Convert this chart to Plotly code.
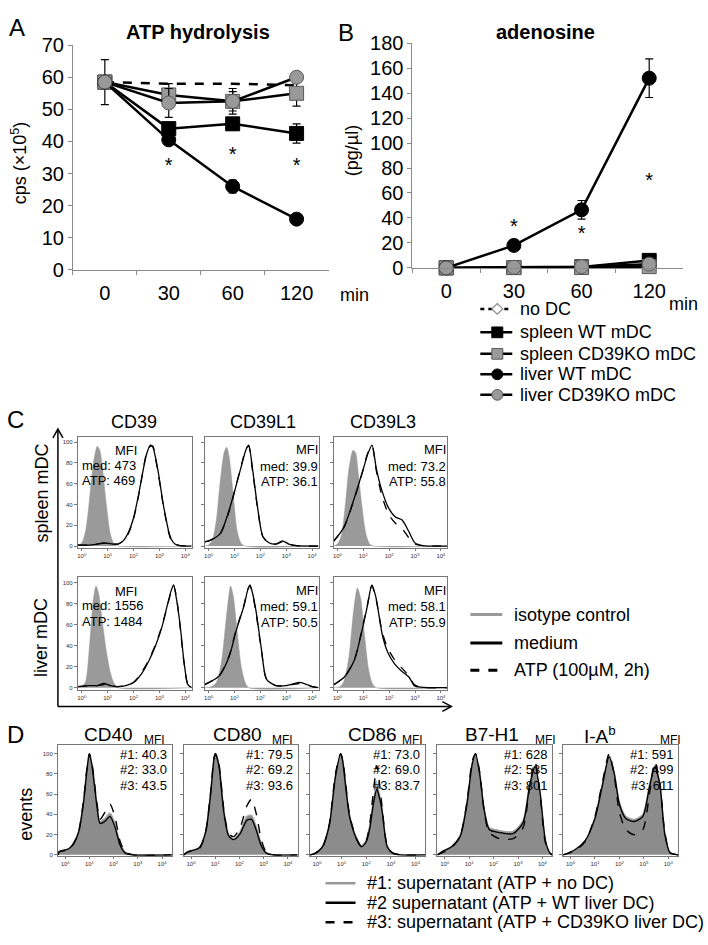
import plotly.graph_objects as go

W, H = 708, 945
FONT = "Liberation Sans, Arial, Helvetica, sans-serif"
AXC = "#8a8a8a"
BOXC = "#777777"


def px(x):
    return x / W


def py(y):
    return 1 - y / H


# ---------------- data: panels A and B ----------------
time_labels = ["0", "30", "60", "120"]
series_names = ["no DC", "spleen WT mDC", "spleen CD39KO mDC", "liver WT mDC", "liver CD39KO mDC"]

atp_no_dc = [58.5, 58.0, 58.0, 57.5]
atp_spleen_wt = [58.5, 44.0, 45.5, 42.5]
atp_spleen_ko = [58.5, 54.5, 52.5, 55.0]
atp_liver_wt = [58.5, 40.5, 26.0, 15.8]
atp_liver_ko = [58.5, 52.0, 52.5, 60.0]
atp_err_no_dc = [0, 0, 0, 0]
atp_err_spleen_wt = [0, 1.5, 1.5, 3.0]
atp_err_spleen_ko = [0, 3.5, 4.0, 4.0]
atp_err_liver_wt = [0, 1.0, 2.0, 1.0]
atp_err_liver_ko = [7.0, 4.5, 3.0, 1.0]
atp_star_y = [32, 35.5, 32]

ado_no_dc = [0, 0, 0, 0]
ado_spleen_wt = [0, 0.3, 0.8, 6.0]
ado_spleen_ko = [0, 0.2, 0.3, 1.0]
ado_liver_wt = [0, 18.0, 46.5, 152.0]
ado_liver_ko = [0, 0.5, 1.0, 3.0]
ado_err_no_dc = [0, 0, 0, 0]
ado_err_spleen_wt = [0, 0, 0, 0]
ado_err_spleen_ko = [0, 0, 0, 0]
ado_err_liver_wt = [0, 1.5, 7.5, 15.5]
ado_err_liver_ko = [0, 0, 0, 0]
ado_star_y = [32, 26, 69]

# ---------------- data: panel C (flow histograms, log10 fluorescence) ----------------
c_col_titles = ["CD39", "CD39L1", "CD39L3"]
c_row_titles = ["spleen mDC", "liver mDC"]
c_legend_labels = ["isotype control", "medium", "ATP (100µM, 2h)"]
hist_tick_vals = [0, 1, 2, 3, 4]
hist_tick_text = ["10<sup>0</sup>", "10<sup>1</sup>", "10<sup>2</sup>", "10<sup>3</sup>", "10<sup>4</sup>"]
hist_y_ticks = [0, 20, 40, 60, 80, 100]

# spleen CD39
c_sp39_iso_x = [-0.15, 0.0, 0.15, 0.3, 0.45, 0.6, 0.7, 0.8, 0.95, 1.1, 1.25, 1.4, 4.25]
c_sp39_iso_y = [1, 3, 15, 45, 80, 96, 92, 75, 40, 12, 2, 0, 0]
c_sp39_x = [-0.15, 0.3, 0.6, 0.9, 1.2, 1.4, 1.6, 1.8, 2.0, 2.2, 2.35, 2.5, 2.65, 2.75, 2.85, 2.95, 3.05, 3.15, 3.25, 3.35, 3.45, 3.6, 3.8, 4.25]
c_sp39_med_y = [1, 1, 2, 3, 2, 2, 5, 13, 27, 50, 70, 88, 97, 95, 85, 72, 56, 40, 27, 15, 7, 2, 0.5, 0]
c_sp39_atp_y = [1, 1, 2, 3, 2, 2, 5, 12, 26, 49, 70, 89, 96, 96, 84, 71, 55, 39, 26, 14, 6, 2, 0.5, 0]
c_sp39_mfi = ["473", "469"]

# spleen CD39L1
c_spL1_iso_x = [-0.15, 0.0, 0.15, 0.3, 0.45, 0.6, 0.7, 0.8, 0.95, 1.1, 1.25, 1.4, 4.25]
c_spL1_iso_y = [0, 1, 6, 25, 62, 90, 95, 85, 50, 15, 3, 0, 0]
c_spL1_x = [-0.15, 0.1, 0.45, 0.8, 1.05, 1.3, 1.45, 1.55, 1.7, 1.9, 2.1, 2.35, 2.6, 2.85, 3.1, 3.4, 4.25]
c_spL1_med_y = [4, 6, 12, 35, 57, 80, 93, 97, 74, 36, 9, 3, 2, 5, 2, 0.5, 0]
c_spL1_atp_y = [4, 6, 12, 34, 57, 81, 94, 96, 72, 35, 9, 3, 2, 4, 2, 0.5, 0]
c_spL1_mfi = ["39.9", "36.1"]

# spleen CD39L3
c_spL3_iso_x = [-0.15, 0.0, 0.15, 0.3, 0.45, 0.6, 0.7, 0.8, 0.95, 1.1, 1.25, 1.4, 4.25]
c_spL3_iso_y = [0, 2, 10, 38, 75, 92, 90, 72, 38, 12, 2, 0, 0]
c_spL3_x = [-0.2, 0.25, 0.65, 1.0, 1.18, 1.34, 1.5, 1.7, 1.97, 2.24, 2.5, 2.76, 3.0, 3.3, 4.25]
c_spL3_med_y = [3, 18, 46, 74, 89, 97, 75, 55, 37, 28, 25, 14, 3, 0.5, 0]
c_spL3_atp_y = [3, 18, 45, 74, 90, 96, 73, 50, 31, 22, 17, 8, 2, 0.5, 0]
c_spL3_mfi = ["73.2", "55.8"]

# liver CD39
c_li39_iso_x = [-0.15, 0.0, 0.15, 0.3, 0.45, 0.55, 0.65, 0.8, 0.95, 1.1, 1.25, 1.4, 4.25]
c_li39_iso_y = [0, 1, 6, 40, 85, 97, 90, 62, 35, 15, 4, 0, 0]
c_li39_x = [-0.15, 0.3, 0.6, 0.85, 1.1, 1.4, 1.7, 2.0, 2.3, 2.6, 2.85, 3.1, 3.3, 3.45, 3.55, 3.65, 3.8, 3.95, 4.1, 4.25]
c_li39_med_y = [1, 2, 2, 4, 2, 1, 2, 5, 13, 26, 40, 58, 78, 92, 98, 86, 60, 25, 3, 0]
c_li39_atp_y = [1, 2, 2, 3, 2, 1, 2, 5, 14, 27, 41, 59, 77, 91, 97, 88, 58, 24, 3, 0]
c_li39_mfi = ["1556", "1484"]

# liver CD39L1
c_liL1_iso_x = [-0.15, 0.1, 0.3, 0.5, 0.7, 0.85, 0.95, 1.1, 1.25, 1.4, 1.55, 4.25]
c_liL1_iso_y = [0, 1, 5, 25, 70, 97, 88, 55, 22, 6, 0, 0]
c_liL1_x = [-0.15, 0.4, 0.8, 1.05, 1.38, 1.5, 1.6, 1.7, 1.84, 2.04, 2.24, 2.6, 3.0, 3.5, 3.7, 4.0, 4.25]
c_liL1_med_y = [3, 11, 30, 53, 79, 92, 98, 90, 72, 37, 8, 2, 2, 5, 4, 1, 0]
c_liL1_atp_y = [3, 11, 31, 54, 80, 93, 97, 89, 70, 36, 8, 2, 2, 4, 4, 1, 0]
c_liL1_mfi = ["59.1", "50.5"]

# liver CD39L3
c_liL3_iso_x = [-0.15, 0.1, 0.25, 0.45, 0.62, 0.77, 0.9, 1.05, 1.2, 1.35, 1.5, 4.25]
c_liL3_iso_y = [0, 1, 6, 30, 72, 95, 85, 50, 18, 4, 0, 0]
c_liL3_x = [-0.2, 0.26, 0.65, 0.9, 1.16, 1.33, 1.48, 1.74, 1.94, 2.2, 2.52, 2.77, 2.97, 3.2, 4.25]
c_liL3_med_y = [2, 10, 26, 49, 78, 98, 87, 50, 34, 23, 15, 10, 2, 0.5, 0]
c_liL3_atp_y = [2, 10, 26, 50, 79, 97, 86, 52, 38, 27, 18, 11, 3, 0.5, 0]
c_liL3_mfi = ["58.1", "55.9"]

# ---------------- data: panel D ----------------
d_titles = ["CD40", "CD80", "CD86", "B7-H1", "I-A<sup>b</sup>"]
d_legend_labels = ["#1: supernatant (ATP + no DC)", "#2 supernatant (ATP + WT liver DC)",
                   "#3: supernatant (ATP + CD39KO liver DC)"]

d_cd40_x = [-0.3, -0.25, 0.15, 0.35, 0.55, 0.75, 0.9, 1.0, 1.12, 1.3, 1.44, 1.64, 1.85, 2.05, 2.26, 2.47, 2.8, 4.4]
d_cd40_s1 = [0, 3, 6, 12, 23, 52, 85, 99, 87, 52, 33, 36, 41, 31, 12, 3, 0, 0]
d_cd40_s2 = [0, 3, 6, 11, 22, 50, 84, 100, 86, 50, 31, 33, 38, 28, 10, 2, 0, 0]
d_cd40_s3 = [0, 3, 5, 11, 22, 52, 86, 100, 88, 53, 35, 42, 50, 38, 14, 3, 0, 0]
d_cd40_mfi = ["40.3", "33.0", "43.5"]

d_cd80_x = [-0.3, -0.13, 0.34, 0.6, 0.81, 0.95, 1.01, 1.15, 1.35, 1.55, 1.76, 2.03, 2.3, 2.5, 2.7, 2.9, 3.1, 3.4, 4.4]
d_cd80_s1 = [0, 3, 7, 23, 62, 95, 100, 90, 45, 20, 16, 23, 38, 39, 27, 11, 2, 0, 0]
d_cd80_s2 = [0, 3, 7, 22, 60, 95, 100, 88, 43, 19, 15, 21, 34, 35, 24, 9, 2, 0, 0]
d_cd80_s3 = [0, 3, 6, 22, 62, 96, 100, 90, 46, 21, 18, 27, 48, 55, 40, 15, 3, 0, 0]
d_cd80_mfi = ["79.5", "69.2", "93.6"]

d_cd86_x = [-0.3, -0.12, 0.2, 0.5, 0.75, 0.96, 1.04, 1.32, 1.6, 1.81, 2.0, 2.15, 2.3, 2.43, 2.55, 2.64, 2.85, 3.06, 3.4, 4.4]
d_cd86_s1 = [0, 1, 7, 30, 78, 99, 94, 40, 17, 9, 14, 30, 55, 70, 58, 45, 9, 2, 0, 0]
d_cd86_s2 = [0, 1, 7, 29, 77, 100, 93, 38, 16, 8, 13, 27, 52, 65, 55, 44, 8, 2, 0, 0]
d_cd86_s3 = [0, 1, 6, 30, 80, 100, 95, 40, 16, 8, 14, 32, 65, 88, 68, 48, 9, 2, 0, 0]
d_cd86_mfi = ["73.0", "69.0", "83.7"]

d_b7h1_x = [-0.3, -0.12, 0.28, 0.63, 0.91, 1.12, 1.26, 1.43, 1.61, 1.82, 2.24, 2.8, 3.21, 3.49, 3.7, 3.9, 4.12, 4.3, 4.4]
d_b7h1_s1 = [0, 3, 8, 19, 52, 90, 99, 81, 46, 27, 24, 23, 34, 72, 85, 60, 14, 2, 0]
d_b7h1_s2 = [0, 3, 8, 18, 50, 89, 100, 80, 45, 25, 22, 21, 32, 70, 87, 62, 14, 2, 0]
d_b7h1_s3 = [0, 2, 7, 18, 52, 92, 100, 82, 44, 22, 16, 16, 27, 70, 92, 60, 12, 2, 0]
d_b7h1_mfi = ["628", "535", "801"]

d_iab_x = [-0.3, 0.18, 0.6, 1.0, 1.29, 1.58, 1.79, 2.0, 2.26, 2.61, 2.96, 3.24, 3.45, 3.65, 3.86, 4.07, 4.4]
d_iab_s1 = [0, 5, 14, 37, 68, 98, 81, 52, 38, 35, 40, 70, 88, 71, 21, 2, 0]
d_iab_s2 = [0, 5, 14, 36, 67, 97, 80, 50, 36, 33, 38, 68, 87, 70, 20, 2, 0]
d_iab_s3 = [0, 4, 13, 38, 70, 100, 78, 42, 25, 20, 25, 62, 92, 72, 22, 2, 0]
d_iab_mfi = ["591", "499", "611"]

# ---------------- figure ----------------
fig = go.Figure()
shapes = []
annotations = []


def add_text(x, y, s, size, xanchor="center", yanchor="middle", angle=0, color="black"):
    annotations.append(dict(xref="paper", yref="paper", x=px(x), y=py(y), text=s, showarrow=False,
                            xanchor=xanchor, yanchor=yanchor, textangle=angle,
                            font=dict(size=size, family=FONT, color=color)))


def add_line(x0, y0, x1, y1, color="black", width=2.5, dash="solid"):
    shapes.append(dict(type="line", xref="paper", yref="paper", x0=px(x0), y0=py(y0),
                       x1=px(x1), y1=py(y1), line=dict(color=color, width=width, dash=dash)))


STY = {
    "no DC": dict(dash="dash", symbol="diamond", fill="white", edge="#888888"),
    "spleen WT mDC": dict(dash="solid", symbol="square", fill="black", edge="black"),
    "spleen CD39KO mDC": dict(dash="solid", symbol="square", fill="#999999", edge="#5a5a5a"),
    "liver WT mDC": dict(dash="solid", symbol="circle", fill="black", edge="black"),
    "liver CD39KO mDC": dict(dash="solid", symbol="circle", fill="#999999", edge="#5a5a5a"),
}

atp_series = [atp_no_dc, atp_spleen_wt, atp_spleen_ko, atp_liver_wt, atp_liver_ko]
atp_errs = [atp_err_no_dc, atp_err_spleen_wt, atp_err_spleen_ko, atp_err_liver_wt, atp_err_liver_ko]
ado_series = [ado_no_dc, ado_spleen_wt, ado_spleen_ko, ado_liver_wt, ado_liver_ko]
ado_errs = [ado_err_no_dc, ado_err_spleen_wt, ado_err_spleen_ko, ado_err_liver_wt, ado_err_liver_ko]

for xa, ya, series, errs, stars in [("x", "y", atp_series, atp_errs, atp_star_y),
                                    ("x2", "y2", ado_series, ado_errs, ado_star_y)]:
    for name, vals, err in zip(series_names, series, errs):
        st = STY[name]
        is_nodc = name == "no DC"
        fig.add_trace(go.Scatter(
            x=time_labels, y=vals, xaxis=xa, yaxis=ya, name=name, showlegend=False,
            mode="lines" if is_nodc else "lines+markers", cliponaxis=False,
            line=dict(color="black", width=2.5, dash=st["dash"]),
            marker=dict(symbol=st["symbol"], size=14, color=st["fill"], line=dict(color=st["edge"], width=1)),
            error_y=dict(type="data", array=err, visible=not is_nodc, color="black", thickness=1.2, width=4),
        ))
    fig.add_trace(go.Scatter(x=time_labels[1:], y=stars, xaxis=xa, yaxis=ya, mode="text",
                             text=["*"] * len(stars), textfont=dict(size=20, family=FONT, color="black"),
                             showlegend=False, cliponaxis=False))


def cat_axis(x0, x1, anchor):
    return dict(domain=[px(x0), px(x1)], anchor=anchor, type="category", range=[-0.5, 3.5],
                showline=True, linecolor=AXC, linewidth=1, ticks="outside", tickson="boundaries",
                ticklen=4, tickcolor=AXC, tickfont=dict(size=20, family=FONT, color="black"),
                showgrid=False, zeroline=False, ticklabelstandoff=5)


def val_axis(y0, y1, anchor, rng, dt):
    return dict(domain=[py(y1), py(y0)], anchor=anchor, range=rng, dtick=dt,
                showline=True, linecolor=AXC, linewidth=1, ticks="outside", ticklen=4, tickcolor=AXC,
                tickfont=dict(size=20, family=FONT, color="black"), showgrid=False, zeroline=False)


layout_axes = {}
layout_axes["xaxis"] = cat_axis(72, 328, "y")
layout_axes["yaxis"] = val_axis(35, 265, "x", [0, 70], 10)
layout_axes["xaxis2"] = cat_axis(412, 683, "y2")
layout_axes["yaxis2"] = val_axis(33, 263, "x2", [0, 180], 20)


def hist_axes(idx, x0, x1, y0, y1, xr, yr, ylabels):
    layout_axes["xaxis%d" % idx] = dict(
        domain=[px(x0), px(x1)], anchor="y%d" % idx, range=xr,
        showline=True, mirror=True, linecolor=BOXC, linewidth=1,
        ticks="outside", ticklen=2, tickcolor=BOXC, tickvals=hist_tick_vals,
        ticktext=hist_tick_text, tickfont=dict(size=6, family=FONT, color="#333"),
        showgrid=False, zeroline=False, ticklabelstandoff=0)
    layout_axes["yaxis%d" % idx] = dict(
        domain=[py(y1), py(y0)], anchor="x%d" % idx, range=yr,
        showline=True, mirror=True, linecolor=BOXC, linewidth=1,
        ticks="outside", ticklen=3, tickcolor=BOXC, tickvals=hist_y_ticks,
        showticklabels=ylabels, tickfont=dict(size=6, family=FONT, color="#333"),
        showgrid=False, zeroline=False)


def add_fill(idx, xs, ys, fillc, linec, lw):
    fig.add_trace(go.Scatter(x=xs, y=ys, xaxis="x%d" % idx, yaxis="y%d" % idx, mode="lines",
                             fill="tozeroy", fillcolor=fillc,
                             line=dict(color=linec, width=lw, shape="spline", smoothing=0.7),
                             showlegend=False, hoverinfo="skip"))


def add_curve(idx, xs, ys, dash, lw=1.3, color="black"):
    fig.add_trace(go.Scatter(x=xs, y=ys, xaxis="x%d" % idx, yaxis="y%d" % idx, mode="lines",
                             line=dict(color=color, width=lw, dash=dash, shape="spline", smoothing=0.7),
                             showlegend=False, hoverinfo="skip"))


C_X = [(77, 191), (204, 318), (333, 447)]
C_Y = [(436, 550), (580, 695)]
c_panels = [
    (c_sp39_iso_x, c_sp39_iso_y, c_sp39_x, c_sp39_med_y, c_sp39_atp_y, c_sp39_mfi),
    (c_spL1_iso_x, c_spL1_iso_y, c_spL1_x, c_spL1_med_y, c_spL1_atp_y, c_spL1_mfi),
    (c_spL3_iso_x, c_spL3_iso_y, c_spL3_x, c_spL3_med_y, c_spL3_atp_y, c_spL3_mfi),
    (c_li39_iso_x, c_li39_iso_y, c_li39_x, c_li39_med_y, c_li39_atp_y, c_li39_mfi),
    (c_liL1_iso_x, c_liL1_iso_y, c_liL1_x, c_liL1_med_y, c_liL1_atp_y, c_liL1_mfi),
    (c_liL3_iso_x, c_liL3_iso_y, c_liL3_x, c_liL3_med_y, c_liL3_atp_y, c_liL3_mfi),
]
idx = 3
for k, (ix, iy, mx, my, ay, mfi) in enumerate(c_panels):
    r, c = divmod(k, 3)
    x0, x1 = C_X[c]
    y0, y1 = C_Y[r]
    hist_axes(idx, x0, x1, y0, y1, [-0.15, 4.25], [-2, 105], c == 0)
    add_fill(idx, ix, iy, "#9a9a9a", "#9a9a9a", 0.5)
    add_curve(idx, mx, ay, "dash")
    add_curve(idx, mx, my, "solid")
    if c == 0:
        add_text(x0 + 48, y0 + 14, "MFI", 13)
        add_text(x0 + 2, y0 + 29, "med: " + mfi[0], 13, xanchor="left")
        add_text(x0 + 2, y0 + 45, "ATP: " + mfi[1], 13, xanchor="left")
    else:
        add_text(x1 + 1, y0 + 13, "MFI", 13, xanchor="right")
        add_text(x1 + 1, y0 + 30, "med: " + mfi[0], 13, xanchor="right")
        add_text(x1 + 1, y0 + 46, "ATP: " + mfi[1], 13, xanchor="right")
    idx += 1

D_X = [(57, 171), (183, 297), (309, 425), (437, 552), (563, 678)]
D_Y = (752, 865)
d_panels = [
    (d_cd40_x, d_cd40_s1, d_cd40_s2, d_cd40_s3, d_cd40_mfi),
    (d_cd80_x, d_cd80_s1, d_cd80_s2, d_cd80_s3, d_cd80_mfi),
    (d_cd86_x, d_cd86_s1, d_cd86_s2, d_cd86_s3, d_cd86_mfi),
    (d_b7h1_x, d_b7h1_s1, d_b7h1_s2, d_b7h1_s3, d_b7h1_mfi),
    (d_iab_x, d_iab_s1, d_iab_s2, d_iab_s3, d_iab_mfi),
]
d_title_x = [108, 237, 372, 492, 600]
d_mfi_x = [154, 282, 412, 545, 670]
for k, (xs, s1, s2, s3, mfi) in enumerate(d_panels):
    x0, x1 = D_X[k]
    hist_axes(idx, x0, x1, D_Y[0], D_Y[1], [-0.3, 4.4], [-1, 108], k == 0)
    add_fill(idx, xs, s1, "#8c8c8c", "#a6a6a6", 1.5)
    add_curve(idx, xs, s2, "solid", 1.4)
    add_curve(idx, xs, s3, "dash", 1.4)
    for j, lab in enumerate(["#1: ", "#2: ", "#3: "]):
        add_text(x1 - 3, 761 + 16 * j, lab + mfi[j], 13, xanchor="right")
    add_text(d_title_x[k], 741, d_titles[k], 19)
    add_text(d_mfi_x[k], 746, "MFI", 12)
    idx += 1

# ---------------- text: titles, labels ----------------
add_text(16, 17, "A", 24)
add_text(345, 22, "B", 24)
add_text(15, 418, "C", 24)
add_text(15, 741, "D", 24)
add_text(197, 21, "<b>ATP hydrolysis</b>", 20)
add_text(545, 21, "<b>adenosine</b>", 20)
add_text(18, 155, "cps (×10<sup>5</sup>)", 18, angle=-90)
add_text(351, 143, "(pg/µl)", 18, angle=-90)
add_text(354, 291, "min", 18)
add_text(683, 300, "min", 18)

for t, x in zip(c_col_titles, [133, 262, 383]):
    add_text(x, 421, t, 18)
add_text(41, 493, c_row_titles[0], 18, angle=-90)
add_text(40, 641, c_row_titles[1], 18, angle=-90)
add_text(25, 822, "events", 18, angle=-90)

# C axis arrows
add_line(57, 712, 57, 429, width=1.5)
add_line(57, 712, 450, 712, width=1.5)
shapes.append(dict(type="path", xref="paper", yref="paper",
                   path="M %f,%f L %f,%f L %f,%f" % (px(52), py(437), px(57), py(428), px(62), py(437)),
                   line=dict(color="black", width=1.5)))
shapes.append(dict(type="path", xref="paper", yref="paper",
                   path="M %f,%f L %f,%f L %f,%f" % (px(442), py(707), px(451), py(712), px(442), py(717)),
                   line=dict(color="black", width=1.5)))

# legend A/B
ab_rows = [305, 329, 351, 372, 393]
for name, yv in zip(series_names, ab_rows):
    st = STY[name]
    add_line(480, yv, 512, yv, width=2.5, dash=st["dash"] if name != "no DC" else "4px,4px")
    r = 5.5
    xc = 497
    if st["symbol"] == "square":
        shapes.append(dict(type="rect", xref="paper", yref="paper", x0=px(xc - r), x1=px(xc + r),
                           y0=py(yv + r), y1=py(yv - r), fillcolor=st["fill"], line=dict(color=st["edge"], width=1)))
    elif st["symbol"] == "circle":
        shapes.append(dict(type="circle", xref="paper", yref="paper", x0=px(xc - r), x1=px(xc + r),
                           y0=py(yv + r), y1=py(yv - r), fillcolor=st["fill"], line=dict(color=st["edge"], width=1)))
    else:
        shapes.append(dict(type="path", xref="paper", yref="paper",
                           path="M %f,%f L %f,%f L %f,%f L %f,%f Z" % (px(xc - r), py(yv), px(xc), py(yv - r),
                                                                      px(xc + r), py(yv), px(xc), py(yv + r)),
                           fillcolor="white", line=dict(color="#888888", width=1.2)))
    add_text(518, yv, name, 18, xanchor="left")

# legend C
for lab, yv, col, dash in zip(c_legend_labels, [618, 647, 675], ["#999999", "black", "black"],
                              ["solid", "solid", "dash"]):
    add_line(470, yv, 502, yv, color=col, width=3, dash=dash)
    add_text(512, yv, lab, 18, xanchor="left")

# legend D
for lab, yv, col, dash in zip(d_legend_labels, [893, 913, 933], ["#999999", "black", "black"],
                              ["solid", "solid", "dash"]):
    add_line(325, yv, 355, yv, color=col, width=2.5, dash=dash)
    add_text(365, yv, lab, 18, xanchor="left")

fig.update_layout(
    width=W, height=H, autosize=False,
    margin=dict(l=0, r=0, t=0, b=0),
    paper_bgcolor="white", plot_bgcolor="rgba(0,0,0,0)",
    font=dict(family=FONT, color="black"),
    showlegend=False,
    shapes=shapes, annotations=annotations,
    **layout_axes,
)

fig.write_html("out.html", config={"displayModeBar": False},
               post_script="document.body.style.margin='0';document.body.style.overflow='hidden';")
